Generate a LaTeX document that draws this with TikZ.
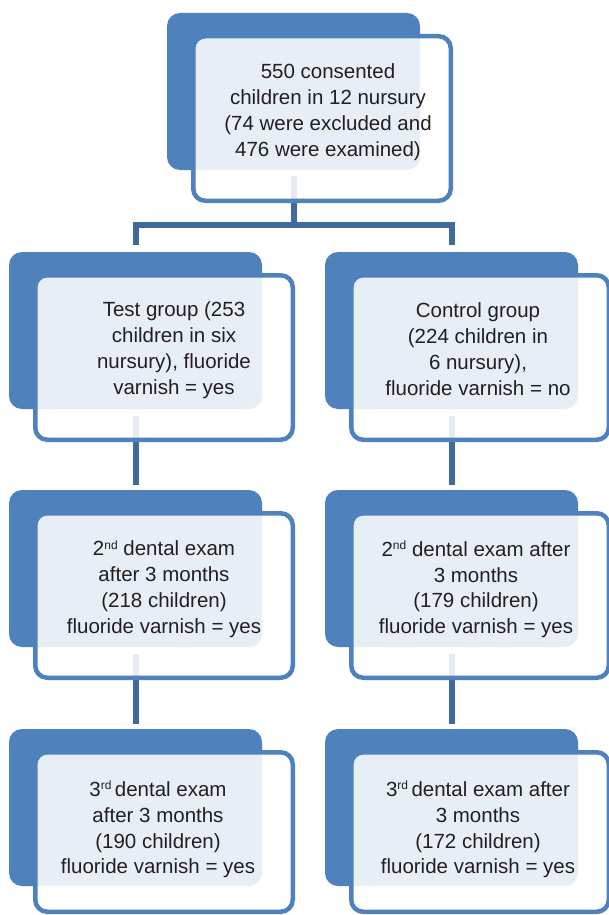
\documentclass[tikz,border=0pt]{standalone}
\usepackage{fontspec}
\setmainfont{Liberation Sans}
\definecolor{accent}{RGB}{79,129,189}
\definecolor{connc}{RGB}{63,106,158}
\definecolor{txt}{RGB}{35,31,32}
\pgfdeclarelayer{bg}
\pgfsetlayers{bg,main}
\tikzset{
  backbox/.style={fill=accent, rounded corners=13pt, minimum width=253pt,
    minimum height=157pt, inner sep=0pt, outer sep=0pt, anchor=north west},
  frontbox/.style={draw=accent, line width=4.5pt, fill=white, fill opacity=0.87,
    rounded corners=12pt, minimum width=257.5pt, minimum height=164.5pt,
    inner sep=0pt, outer sep=0pt, anchor=north west},
  txtnode/.style={text=txt, align=center, inner sep=0pt,
    font=\fontsize{20.5}{25.7}\selectfont},
  conn/.style={draw=connc, line width=6pt},
}
\newcommand\mystage[4]{%
  \node[backbox] (b#1) at (#2,#3) {};
  \node[frontbox, minimum height=#4] (f#1) at ({#2+26.25},{#3+23.25}) {};
}
\newcommand\mysup[1]{\raisebox{0.33em}{\fontsize{12}{12}\selectfont #1}}
\begin{document}
\begin{tikzpicture}[x=1pt,y=-1pt]
\useasboundingbox (0,0) rectangle (609,915);

\mystage{0}{167}{13}{164.5pt}
\mystage{1}{9}{252}{164.5pt}
\mystage{2}{325}{252}{164.5pt}
\mystage{3}{9}{490}{164.5pt}
\mystage{4}{325}{490}{164.5pt}
\mystage{5}{9}{729}{159.5pt}
\mystage{6}{325}{729}{159.5pt}

\node[txtnode] (t0) at (328,112.4) {\strut 550 consented\\\strut children in 12 nursury\\\strut (74 were excluded and\\\strut 476 were examined)};
\node[txtnode] (t1) at (174,350.4) {\strut Test group (253\\\strut children in six\\\strut nursury), fluoride\\\strut varnish = yes};
\node[txtnode] (t2) at (478,351.4) {\strut Control group\\\strut (224 children in\\\strut 6 nursury),\\\strut fluoride varnish = no};
\node[txtnode] (t3) at (164,589.4) {\strut 2\mysup{nd} dental exam\\\strut after 3 months\\\strut (218 children)\\\strut fluoride varnish = yes};
\node[txtnode] (t4) at (476,590) {\strut 2\mysup{nd} dental exam after\\\strut 3 months\\\strut (179 children)\\\strut fluoride varnish = yes};
\node[txtnode] (t5) at (158,830) {\strut 3\mysup{rd}\,dental exam\\\strut after 3 months\\\strut (190 children)\\\strut fluoride varnish = yes};
\node[txtnode] (t6) at (478,830) {\strut 3\mysup{rd}\,dental exam after\\\strut 3 months\\\strut (172 children)\\\strut fluoride varnish = yes};

\begin{pgfonlayer}{bg}
  \fill[white] (0,0) rectangle (609,915);
  \coordinate (split) at (b0.south |- 0,224.7);
  \draw[conn] ([yshift=-6pt]b0.south) -- (split);
  \draw[conn] ([yshift=7pt]b1.north) |- (split) -| ([yshift=7pt]b2.north);
  \draw[conn] ([yshift=-7pt]b1.south) -- ([yshift=5pt]b3.north);
  \draw[conn] ([yshift=-7pt]b2.south) -- ([yshift=5pt]b4.north);
  \draw[conn] ([yshift=-7pt]b3.south) -- ([yshift=5pt]b5.north);
  \draw[conn] ([yshift=-7pt]b4.south) -- ([yshift=5pt]b6.north);
\end{pgfonlayer}
\end{tikzpicture}
\end{document}
